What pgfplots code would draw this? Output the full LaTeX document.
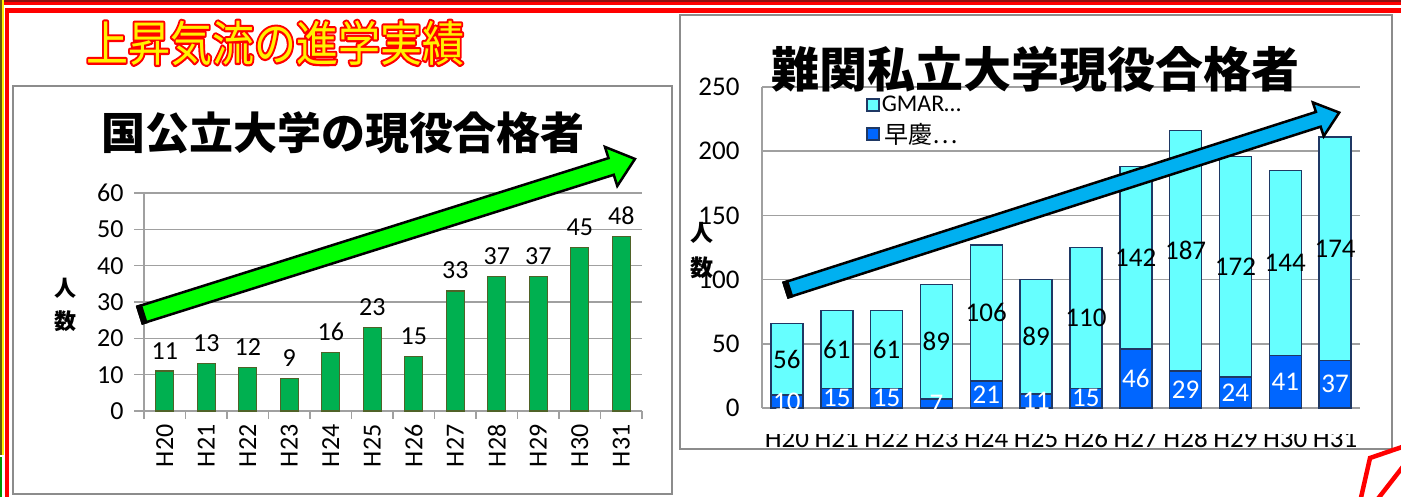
\documentclass[border=0pt]{standalone}
\usepackage{pgfplots}
\pgfplotsset{compat=1.18}
\usepackage{fontspec}
\setmainfont{Carlito}
\newfontfamily\jp{Noto Sans CJK JP}
\definecolor{barGreen}{HTML}{00B050}
\definecolor{barEdge}{HTML}{4F6228}
\definecolor{cyanB}{HTML}{66FFFF}
\definecolor{blueB}{HTML}{0066FF}
\definecolor{navy}{HTML}{1F3864}
\definecolor{gridgray}{HTML}{A0A0A0}
\definecolor{framegray}{HTML}{8C8C8C}
\definecolor{arrowGreen}{HTML}{00FF00}
\definecolor{arrowBlue}{HTML}{00B0F0}
\definecolor{darkred}{HTML}{8B1010}
\definecolor{olivey}{HTML}{6B5A10}
\begin{document}
\begin{tikzpicture}[x=1pt,y=1pt]
\path[use as bounding box] (0,0) rectangle (1401,497);
\fill[white] (0,0) rectangle (1401,497);
% outer decorations
\fill[darkred] (0,494.5) rectangle (1401,497);
\fill[red] (0,492.3) rectangle (1401,494.5);
\fill[red] (5,484) rectangle (1401,488.5);
\fill[yellow] (0,42) rectangle (4,497);
\fill[olivey] (0,42) rectangle (1.5,497);
\fill[red] (5,0) rectangle (8.5,488);
\fill[green!60!black] (0,0) rectangle (1.5,40);

% ---------------- left chart ----------------
\begin{axis}[
  at={(144pt,86pt)}, anchor=south west, scale only axis,
  width=498pt, height=218pt,
  xmin=-0.5, xmax=11.5, ymin=0, ymax=60,
  ytick={0,10,...,60},
  xtick={0,...,11},
  xticklabels={H20,H21,H22,H23,H24,H25,H26,H27,H28,H29,H30,H31},
  minor xtick={-0.5,0.5,...,11.5},
  axis x line*=bottom, axis y line*=left,
  axis line style={draw=gridgray, line width=1.5pt},
  ymajorgrids, grid style={draw=gridgray, line width=1.5pt},
  tick align=outside,
  major tick length=10pt, minor tick length=8pt,
  tick style={draw=gridgray, line width=1.5pt},
  major x tick style={draw=none},
  tick label style={font=\fontsize{26}{26}\selectfont},
  /pgf/number format/assume math mode=true,
  x tick label style={rotate=90, anchor=east},
  yticklabel style={xshift=-7pt},
  ybar, bar width=18pt,
  nodes near coords,
  every node near coord/.append style={font=\fontsize{26}{26}\selectfont, text=black, yshift=8pt},
  clip=false,
]
\addplot[fill=barGreen, draw=barEdge, line width=1.2pt] coordinates {(0,11)(1,13)(2,12)(3,9)(4,16)(5,23)(6,15)(7,33)(8,37)(9,37)(10,45)(11,48)};
\end{axis}

% ---------------- right chart ----------------
\begin{axis}[
  at={(762pt,89pt)}, anchor=south west, scale only axis,
  width=598pt, height=321pt,
  xmin=-0.5, xmax=11.5, ymin=0, ymax=250,
  ytick={0,50,...,250},
  xtick={0,...,11},
  xticklabels={H20,H21,H22,H23,H24,H25,H26,H27,H28,H29,H30,H31},
  axis x line*=bottom, axis y line*=left,
  axis line style={draw=gridgray, line width=1.5pt},
  ymajorgrids, grid style={draw=gridgray, line width=1.5pt},
  major tick length=0pt,
  tick label style={font=\fontsize{27}{27}\selectfont},
  /pgf/number format/assume math mode=true,
  yticklabel style={xshift=-19pt},
  xticklabel style={yshift=-18pt},
  ybar stacked, bar width=32pt,
  legend style={at={(rel axis cs:0.174,0.978)}, anchor=north west, draw=none, fill=none,
    font=\fontsize{24}{24}\selectfont, row sep=6pt, inner sep=0pt},
  legend image code/.code={\draw[#1] (0pt,-6pt) rectangle (12pt,6pt);},
  reverse legend,
  clip=false,
]
\addplot[fill=blueB, draw=navy, line width=1.5pt]
  coordinates {(0,10)(1,15)(2,15)(3,7)(4,21)(5,11)(6,15)(7,46)(8,29)(9,24)(10,41)(11,37)};
\addlegendentry{{\jp 早慶…}}
\addplot[fill=cyanB, draw=navy, line width=1.5pt]
  coordinates {(0,56)(1,61)(2,61)(3,89)(4,106)(5,89)(6,110)(7,142)(8,187)(9,172)(10,144)(11,174)};
\addlegendentry{GMAR…}
\end{axis}

% segment labels: same geometry, placed at the middle of each segment
\begin{axis}[
  at={(762pt,89pt)}, anchor=south west, scale only axis,
  width=598pt, height=321pt,
  xmin=-0.5, xmax=11.5, ymin=0, ymax=250,
  hide axis, clip=false,
  point meta=explicit symbolic,
  nodes near coords,
]
\addplot[draw=none, mark=none, nodes near coords,
  every node near coord/.style={anchor=center, text=white, font=\fontsize{27}{27}\selectfont}]
  coordinates {(0,5)[10] (1,7.5)[15] (2,7.5)[15] (3,3.5)[7] (4,10.5)[21] (5,5.5)[11]
               (6,7.5)[15] (7,23)[46] (8,14.5)[29] (9,12)[24] (10,20.5)[41] (11,18.5)[37]};
\addplot[draw=none, mark=none, nodes near coords,
  every node near coord/.style={anchor=center, text=black, font=\fontsize{27}{27}\selectfont}]
  coordinates {(0,38)[56] (1,45.5)[61] (2,45.5)[61] (3,51.5)[89] (4,74)[106] (5,55.5)[89]
               (6,70)[110] (7,117)[142] (8,122.5)[187] (9,110)[172] (10,113)[144] (11,124)[174]};
\end{axis}

% clip labels under the right axis, as the reference does
\fill[white] (762,63) rectangle (1361,88);
% cut the right x labels at the panel frame
\fill[white] (676,0) rectangle (1397,47);

% panel frames
\draw[framegray, line width=2] (12.5,3) rectangle (672,411);
\draw[framegray, line width=2] (680,48) rectangle (1392,482);

% green arrow
\begin{scope}[shift={(140,182)}, rotate=17.5]
\filldraw[fill=arrowGreen, draw=black, line width=2.5pt, line join=miter]
  (0,-8.75) -- (494,-8.75) -- (494,-20.5) -- (519,0) -- (494,20.5) -- (494,8.75) -- (0,8.75) -- cycle;
\fill[black] (-1.25,-10) rectangle (5,10);
\end{scope}
% blue arrow
\begin{scope}[shift={(786,207)}, rotate=17.78]
\filldraw[fill=arrowBlue, draw=black, line width=2.5pt, line join=miter]
  (0,-7.75) -- (559,-7.75) -- (559,-17.75) -- (581,0) -- (559,17.75) -- (559,7.75) -- (0,7.75) -- cycle;
\fill[black] (-1.25,-9) rectangle (5,9);
\end{scope}

% titles
\node[font={\jp\bfseries\fontsize{44}{44}\selectfont}] at (343,364) {国公立大学の現役合格者};
\node[font={\jp\bfseries\fontsize{48}{48}\selectfont}] at (1035,428) {難関私立大学現役合格者};
% outlined title: red stroked text under the yellow text
\node[text=red, font={\jp\fontsize{48}{48}\selectfont}, xscale=0.875, transform shape]
  at (275,454) {\special{pdf:literal direct 2 Tr 4.2 w 1 j 1 0 0 RG}上昇気流の進学実績\special{pdf:literal direct 0 Tr}};
\node[text=yellow, font={\jp\fontsize{48}{48}\selectfont}, xscale=0.875, transform shape] at (275,454) {上昇気流の進学実績};

% axis titles
\node[font={\jp\bfseries\fontsize{22}{33}\selectfont}, align=center] at (65,192) {人\\数};
\node[font={\jp\bfseries\fontsize{23}{35}\selectfont}, align=center] at (702,246) {人\\数};

% red shape at the bottom right corner
\draw[red, line width=4.5pt] (1405,51) -- (1370,39) -- (1360,-5);
\draw[red, line width=4.5pt] (1405,33) -- (1377,-3);
\end{tikzpicture}
\end{document}
